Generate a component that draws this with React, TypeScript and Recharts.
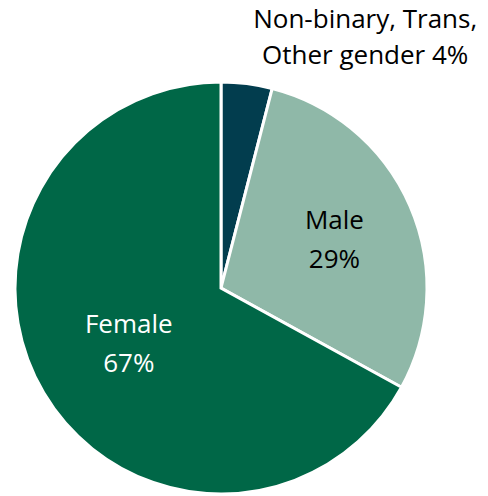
import { PieChart, Pie, Cell } from "recharts";

const categories = ["Non-binary, Trans, Other gender", "Male", "Female"];
const shares = [4, 29, 67];
const colors = ["#023d4e", "#8fb8a8", "#006747"];

const data = categories.map((name, i) => ({ name, value: shares[i] }));

const RADIAN = Math.PI / 180;
const FONT = "'Open Sans', sans-serif";
const SIZE = 26;

const renderLabel = (props: any) => {
  const { cx, cy, midAngle, outerRadius, index, name, value } = props;
  if (index === 0) {
    // outside label, two lines, above right of the pie
    const x = cx + outerRadius * 0.7;
    const y = cy - outerRadius * 1.26;
    return (
      <text x={x} y={y} textAnchor="middle" fill="#000" fontSize={SIZE} fontFamily={FONT}>
        <tspan x={x} dy={0}>Non-binary, Trans,</tspan>
        <tspan x={x} dy={36}>Other gender {value}%</tspan>
      </text>
    );
  }
  const r = outerRadius * (index === 1 ? 0.6 : 0.52);
  const x = cx + r * Math.cos(-midAngle * RADIAN);
  const y = cy + r * Math.sin(-midAngle * RADIAN);
  const fill = index === 2 ? "#fff" : "#000";
  return (
    <text x={x} y={y} textAnchor="middle" fill={fill} fontSize={SIZE} fontFamily={FONT}>
      <tspan x={x} dy={-10}>{name}</tspan>
      <tspan x={x} dy={39}>{value}%</tspan>
    </text>
  );
};

export default function App() {
  return (
    <div style={{ position: "absolute", left: 0, top: 0, width: 488, height: 496, background: "#fff" }}>
      <PieChart width={488} height={496} margin={{ top: 0, right: 0, bottom: 0, left: 0 }}>
        <Pie
          data={data}
          dataKey="value"
          nameKey="name"
          cx={221}
          cy={288}
          outerRadius={206}
          startAngle={90}
          endAngle={-270}
          stroke="#fff"
          strokeWidth={3}
          label={renderLabel}
          labelLine={false}
          isAnimationActive={false}
        >
          {data.map((d, i) => (
            <Cell key={d.name} fill={colors[i]} />
          ))}
        </Pie>
      </PieChart>
    </div>
  );
}
